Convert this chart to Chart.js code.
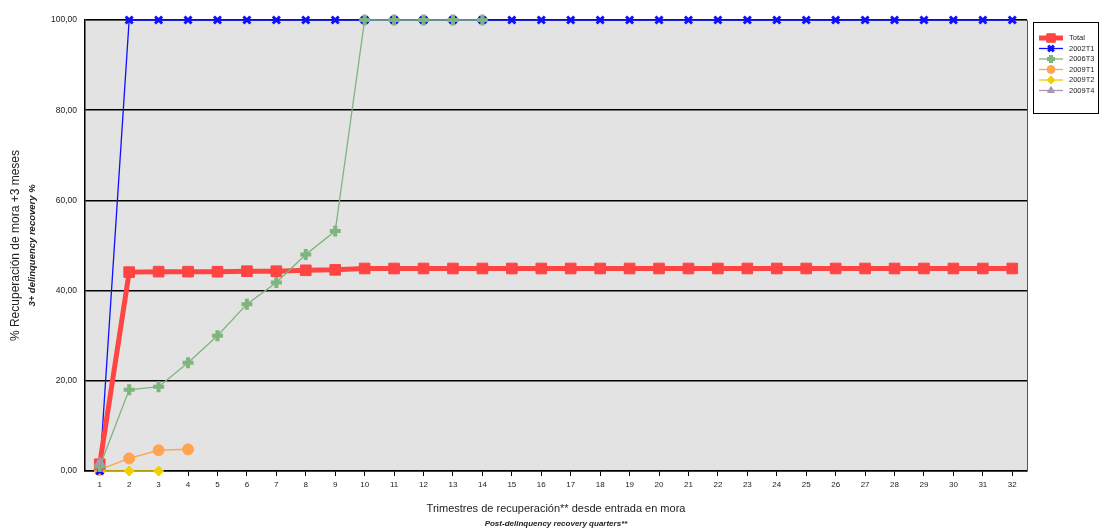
<!DOCTYPE html>
<html>
<head>
<meta charset="utf-8">
<script src="https://cdn.jsdelivr.net/npm/chart.js@4/dist/chart.umd.min.js"></script>
<style>
  html, body { margin: 0; padding: 0; background: #ffffff; }
  #wrap { position: relative; width: 1100px; height: 531px; }
</style>
</head>
<body>
<div id="wrap"><canvas id="line-chart"></canvas></div>
<script>
// categories: recovery quarters 1..32
const QUARTERS = ["1","2","3","4","5","6","7","8","9","10","11","12","13","14","15","16",
  "17","18","19","20","21","22","23","24","25","26","27","28","29","30","31","32"];
const Y_TICKS = [0, 20, 40, 60, 80, 100];
const Y_LABELS = ["0,00", "20,00", "40,00", "60,00", "80,00", "100,00"];

const TOTAL = [1.5, 44.1, 44.2, 44.2, 44.2, 44.3, 44.3, 44.5, 44.6, 44.9, 44.9, 44.9, 44.9, 44.9, 44.9, 44.9,
  44.9, 44.9, 44.9, 44.9, 44.9, 44.9, 44.9, 44.9, 44.9, 44.9, 44.9, 44.9, 44.9, 44.9, 44.9, 44.9];
const S2002T1 = [0, 100, 100, 100, 100, 100, 100, 100, 100, 100, 100, 100, 100, 100, 100, 100,
  100, 100, 100, 100, 100, 100, 100, 100, 100, 100, 100, 100, 100, 100, 100, 100];
const S2006T3 = [1, 18, 18.7, 24, 30, 37, 41.8, 48, 53.2, 100, 100, 100, 100, 100];
const S2009T1 = [0.3, 2.8, 4.6, 4.8];
const S2009T2 = [0, 0, 0];
const S2009T4 = [2];

const SERIES_NAMES = ["Total", "2002T1", "2006T3", "2009T1", "2009T2", "2009T4"];

const FONT = "'Liberation Sans', Arial, sans-serif";
const ctx = document.getElementById("line-chart").getContext("2d");

// grey plot background, frame, axis titles and the boxed legend
const plotFrame = {
  id: "plotFrame",
  beforeDraw(chart) {
    const a = chart.chartArea, c = chart.ctx;
    c.save();
    c.fillStyle = "#e3e3e3";
    c.fillRect(a.left, a.top, a.right - a.left, a.bottom - a.top);
    c.restore();
  },
  beforeDatasetsDraw(chart) {
    const a = chart.chartArea, c = chart.ctx;
    c.save();
    c.strokeStyle = "#555555";
    c.lineWidth = 1;
    c.beginPath();
    c.moveTo(a.left, a.top + 0.5);
    c.lineTo(a.right + 0.5, a.top + 0.5);
    c.lineTo(a.right + 0.5, a.bottom);
    c.stroke();
    c.restore();
  },
  afterDraw(chart) {
    const a = chart.chartArea, c = chart.ctx;
    c.save();
    c.fillStyle = "#222222";
    c.textAlign = "center";
    c.textBaseline = "middle";
    c.font = "11px " + FONT;
    c.fillText("Trimestres de recuperación** desde entrada en mora", (a.left + a.right) / 2, 509);
    c.font = "italic bold 8px " + FONT;
    c.fillText("Post-delinquency recovery quarters**", (a.left + a.right) / 2, 524);
    c.save();
    c.translate(16, (a.top + a.bottom) / 2);
    c.rotate(-Math.PI / 2);
    c.font = "12px " + FONT;
    c.fillText("% Recuperación de mora +3 meses", 0, 0);
    c.font = "italic bold 9.5px " + FONT;
    c.fillText("3+ delinquency recovery %", 0, 16);
    c.restore();

    // legend box
    const lx = 1033, ly = 22, lw = 65, lh = 91;
    c.fillStyle = "#ffffff";
    c.fillRect(lx, ly, lw, lh);
    c.strokeStyle = "#000000";
    c.lineWidth = 1;
    c.strokeRect(lx + 0.5, ly + 0.5, lw, lh);
    chart.data.datasets.forEach((ds, i) => {
      const yy = ly + 16 + i * 10.5;
      c.strokeStyle = ds.borderColor;
      c.fillStyle = ds.borderColor;
      c.lineWidth = i === 0 ? 5 : 1.3;
      c.beginPath();
      c.moveTo(lx + 6, yy);
      c.lineTo(lx + 30, yy);
      c.stroke();
      c.lineWidth = ds.pointBorderWidth;
      Chart.helpers.drawPoint(c, {
        pointStyle: ds.pointStyle,
        radius: i === 0 ? 6 : 4,
        borderWidth: ds.pointBorderWidth,
      }, lx + 18, yy);
      c.fillStyle = "#222222";
      c.textAlign = "left";
      c.font = "7.5px " + FONT;
      c.fillText(ds.label, lx + 36, yy);
    });
    c.restore();
  }
};

function series(label, data, color, style, radius, lineWidth, ptBorder, order) {
  return {
    label: label,
    data: data,
    borderColor: color,
    backgroundColor: color,
    pointBackgroundColor: color,
    pointBorderColor: color,
    pointStyle: style,
    pointRadius: radius,
    pointHoverRadius: radius,
    pointBorderWidth: ptBorder,
    borderWidth: lineWidth,
    fill: false,
    tension: 0,
    clip: false,
    order: order,
  };
}

const config = {
  type: "line",
  data: {
    labels: QUARTERS,
    datasets: [
      series(SERIES_NAMES[0], TOTAL, "#ff4444", "rect", 7.5, 5, 1, 2),
      series(SERIES_NAMES[1], S2002T1, "#1010ff", "crossRot", 5, 1.3, 3, 3),
      series(SERIES_NAMES[2], S2006T3, "#7db57d", "cross", 5.5, 1.3, 4, 1),
      series(SERIES_NAMES[3], S2009T1, "#ffa552", "circle", 5.5, 1.5, 1, 4),
      series(SERIES_NAMES[4], S2009T2, "#f0d000", "rectRot", 5, 1.5, 1, 5),
      series(SERIES_NAMES[5], S2009T4, "#a897b5", "triangle", 5, 1.5, 1, 0),
    ],
  },
  options: {
    responsive: true,
    maintainAspectRatio: false,
    animation: false,
    layout: { padding: { top: 20, right: 73, left: 0, bottom: 0 } },
    plugins: {
      legend: { display: false },
      tooltip: { enabled: false },
    },
    scales: {
      x: {
        offset: true,
        grid: {
          display: true,
          drawOnChartArea: false,
          drawTicks: true,
          tickLength: 5,
          color: "#000000",
          offset: false,
        },
        border: { color: "#000000", width: 1.5 },
        ticks: {
          color: "#222222",
          font: { size: 8, family: FONT },
          maxRotation: 0,
          autoSkip: false,
          padding: 4,
        },
        afterFit(s) { s.height = 60; },
      },
      y: {
        min: 0,
        max: 100,
        afterBuildTicks(s) { s.ticks = Y_TICKS.map(v => ({ value: v })); },
        grid: {
          color: "#000000",
          lineWidth: 1.5,
          drawTicks: false,
        },
        border: { color: "#000000", width: 1.5 },
        ticks: {
          color: "#222222",
          padding: 8,
          font: { size: 8.5, family: FONT },
          callback: (v) => Y_LABELS[Y_TICKS.indexOf(Number(v))],
        },
        afterFit(s) { s.width = 85; },
      },
    },
  },
  plugins: [plotFrame],
};

new Chart(ctx, config);
</script>
</body>
</html>
